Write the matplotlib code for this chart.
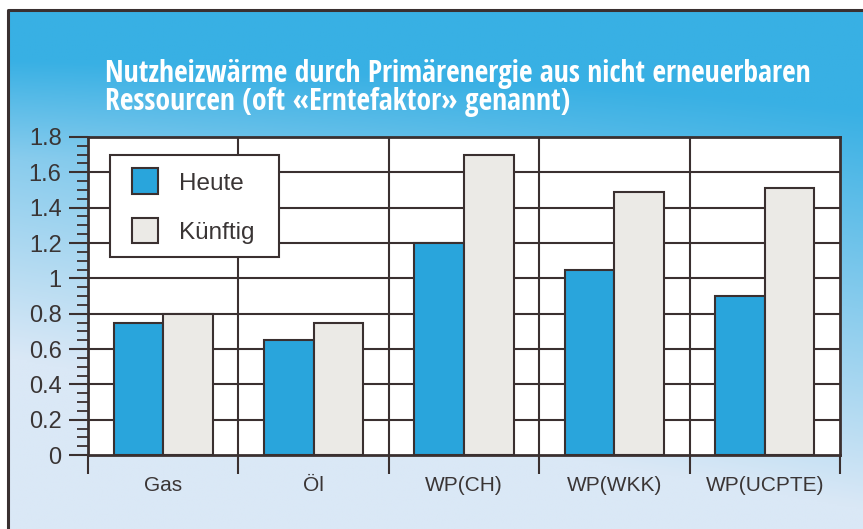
import numpy as np
import matplotlib
matplotlib.use("Agg")
import matplotlib.pyplot as plt
from matplotlib.patches import Rectangle
from matplotlib.legend_handler import HandlerPatch, update_from_first_child
from matplotlib.container import BarContainer

categories = ["Gas", "Öl", "WP(CH)", "WP(WKK)", "WP(UCPTE)"]
heute = [0.75, 0.65, 1.20, 1.05, 0.90]
kuenftig = [0.80, 0.75, 1.70, 1.49, 1.51]
series_names = ["Heute", "Künftig"]
title_lines = ["Nutzheizwärme durch Primärenergie aus nicht erneuerbaren",
               "Ressourcen (oft «Erntefaktor» genannt)"]
y_ticks = [0, 0.2, 0.4, 0.6, 0.8, 1.0, 1.2, 1.4, 1.6, 1.8]

BLUE = "#29a5dc"
GREY = "#ebeae6"
DARK = "#3a3030"
TXT = "#3a3535"

W, H = 863, 529
fig = plt.figure(figsize=(W / 100, H / 100), dpi=100)
fig.patch.set_facecolor("white")

# background gradient panel
bg = fig.add_axes([0, 0, 1, 1], zorder=0)
bg.set_xlim(0, W)
bg.set_ylim(H, 0)
bg.axis("off")
xx, yy = np.meshgrid(np.linspace(0, 1, 300), np.linspace(0, 1, 300))
t = np.clip(1.3 * yy - 0.25 + 0.38 * (1 - xx) * np.clip(yy * 3.5, 0, 1), 0, 1)
c0 = np.array([56, 176, 228]) / 255.0
c1 = np.array([218, 232, 246]) / 255.0
img = c0[None, None, :] * (1 - t[..., None]) + c1[None, None, :] * t[..., None]
bg.imshow(img, extent=[8, W, H, 10], aspect="auto", zorder=0)
bg.plot([8, 8, W], [H, 10, 10], color=DARK, lw=2.2, zorder=2, solid_capstyle="butt")

# title
tfont = dict(family=["Open Sans Condensed", "IBM Plex Sans Condensed", "DejaVu Sans"],
             weight="bold", color="white")
fig.text(105 / W, 1 - 82 / H, title_lines[0], fontsize=21.3, **tfont)
fig.text(105 / W, 1 - 110 / H, title_lines[1], fontsize=21.3, **tfont)

# main axes
ax = fig.add_axes([88 / W, 74 / H, 752 / W, 318 / H], zorder=1)
ax.set_facecolor("white")
x = np.arange(len(categories))
bw = 0.33
ax.bar(x - bw / 2, heute, bw, color=BLUE, edgecolor=DARK, linewidth=1.5,
       label=series_names[0], zorder=3)
ax.bar(x + bw / 2, kuenftig, bw, color=GREY, edgecolor=DARK, linewidth=1.5,
       label=series_names[1], zorder=3)
ax.set_xlim(-0.5, len(categories) - 0.5)
ax.set_ylim(0, 1.8)

for yv in y_ticks[1:]:
    ax.axhline(yv, color=DARK, lw=1.5, zorder=1)
for b in np.arange(0.5, len(categories) - 0.5, 1):
    ax.axvline(b, color=DARK, lw=1.5, zorder=1)

for s in ax.spines.values():
    s.set_color(DARK)
    s.set_linewidth(2)
    s.set_zorder(4)

ax.set_yticks(y_ticks)
ax.set_yticklabels(["%g" % v for v in y_ticks], family="Liberation Sans",
                   fontsize=17, color=TXT)
ax.set_yticks(np.arange(0, 1.8001, 0.05), minor=True)
ax.tick_params(axis="y", which="major", length=14, width=1.5, color=DARK,
               direction="out", pad=5)
ax.tick_params(axis="y", which="minor", length=8, width=1.3, color=DARK,
               direction="out")

ax.set_xticks(x)
ax.set_xticklabels(categories, family="Liberation Sans", fontsize=15, color=TXT)
ax.set_xticks(np.arange(-0.5, len(categories), 1), minor=True)
ax.tick_params(axis="x", which="major", length=14, width=0, pad=1)
ax.tick_params(axis="x", which="minor", length=14, width=1.5, color=DARK,
               direction="out")


def square_patch(legend, orig_handle, xdescent, ydescent, width, height, fontsize):
    dx = 0.37 * fontsize
    return Rectangle((-xdescent + dx, -ydescent), width - dx, height)


leg = ax.legend(loc="upper left", bbox_to_anchor=(0.029, 0.613, 0.225, 0.330),
                mode="expand",
                prop=dict(family="Liberation Sans", size=17.5),
                frameon=True, fancybox=False, framealpha=1,
                handlelength=1.45, handleheight=1.25, labelspacing=0.95,
                borderpad=0.55, handletextpad=0.85, borderaxespad=0,
                handler_map={BarContainer: HandlerPatch(
                    patch_func=square_patch, update_func=update_from_first_child)})
leg.get_frame().set_edgecolor(DARK)
leg.get_frame().set_linewidth(1.5)
for txt in leg.get_texts():
    txt.set_color(TXT)
leg.set_zorder(5)

fig.savefig("out.png", dpi=100)
